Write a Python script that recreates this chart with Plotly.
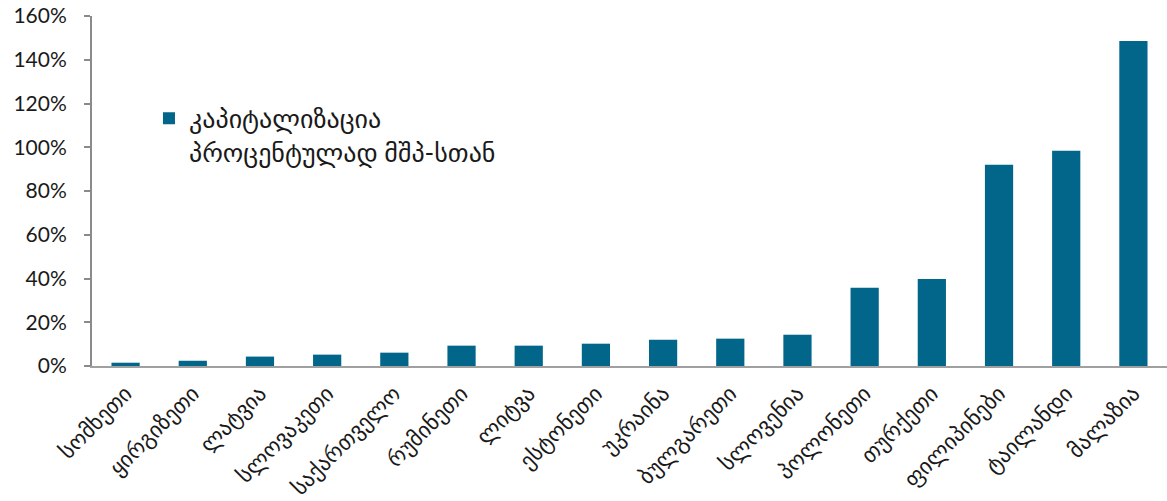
import plotly.graph_objects as go

countries = [
    "სომხეთი", "ყირგიზეთი", "ლატვია", "სლოვაკეთი", "საქართველო",
    "რუმინეთი", "ლიტვა", "ესტონეთი", "უკრაინა", "ბულგარეთი",
    "სლოვენია", "პოლონეთი", "თურქეთი", "ფილიპინები", "ტაილანდი", "მალაზია",
]
cap_pct_gdp = [1.5, 2.4, 4.3, 5.2, 6.1, 9.3, 9.3, 10.2, 12.0, 12.5,
               14.3, 35.8, 39.8, 92.0, 98.4, 148.6]
series_name = "კაპიტალიზაცია<br>პროცენტულად მშპ-სთან"
y_ticks = [0, 20, 40, 60, 80, 100, 120, 140, 160]
y_tick_text = [f"{v}%" for v in y_ticks]

font_family = "Lato, 'DejaVu Sans', sans-serif"

fig = go.Figure()
fig.add_trace(go.Bar(
    x=countries,
    y=cap_pct_gdp,
    name=series_name,
    marker=dict(color="#02658a", line=dict(width=0)),
    width=0.42,
    showlegend=True,
))

fig.update_layout(
    width=1167, height=501,
    margin=dict(l=92, r=0, t=16, b=135),
    paper_bgcolor="white", plot_bgcolor="white",
    font=dict(family=font_family, size=20, color="#1a1a1a"),
    showlegend=True,
    legend=dict(
        x=0.053, y=0.775, xanchor="left", yanchor="top",
        bgcolor="rgba(0,0,0,0)",
        font=dict(family=font_family, size=26, color="#1a1a1a"),
        valign="top",
        itemwidth=30,
    ),
    bargap=0.58,
)
fig.update_xaxes(
    tickangle=-45,
    tickfont=dict(family=font_family, size=22, color="#1a1a1a"),
    showline=True, linecolor="#a0a0a0", linewidth=2,
    ticks="", showgrid=False, automargin=False,
    ticklabelstandoff=4,
)
fig.update_yaxes(
    range=[0, 160],
    tickvals=y_ticks, ticktext=y_tick_text,
    tickfont=dict(family=font_family, size=21, color="#1a1a1a"),
    showline=True, linecolor="#8a8a8a", linewidth=2,
    ticks="outside", ticklen=6, tickcolor="#8a8a8a", tickwidth=2,
    ticklabelstandoff=13,
    showgrid=False, zeroline=False, automargin=False,
)

fig.write_html("out.html")
